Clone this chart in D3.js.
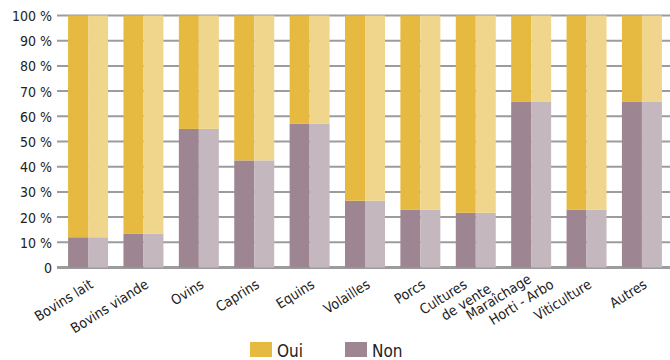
<!DOCTYPE html>
<html>
<head>
<meta charset="utf-8">
<script src="https://cdn.jsdelivr.net/npm/d3@7"></script>
<style>
  html, body { margin: 0; padding: 0; background: #fff; }
  svg { display: block; }
  text { font-family: "DejaVu Sans Condensed", "DejaVu Sans", sans-serif; font-stretch: condensed; fill: #222; }
</style>
</head>
<body>
<svg id="chart" width="670" height="360"></svg>
<script>
// ---- data ----
const categories = ["Bovins lait", "Bovins viande", "Ovins", "Caprins", "Equins", "Volailles", "Porcs", "Cultures de vente", "Maraîchage Horti - Arbo", "Viticulture", "Autres"];
const categoryLines = [["Bovins lait"], ["Bovins viande"], ["Ovins"], ["Caprins"], ["Equins"], ["Volailles"], ["Porcs"], ["Cultures", "de vente"], ["Maraîchage", "Horti - Arbo"], ["Viticulture"], ["Autres"]];
const nonValues = [12, 13.5, 55, 42.5, 57, 26.5, 23, 21.7, 65.7, 23, 65.7];
const ouiValues = [88, 86.5, 45, 57.5, 43, 73.5, 77, 78.3, 34.3, 77, 34.3];
const yTicks = [0, 10, 20, 30, 40, 50, 60, 70, 80, 90, 100];
const yTickLabels = ["0", "10 %", "20 %", "30 %", "40 %", "50 %", "60 %", "70 %", "80 %", "90 %", "100 %"];
const seriesNames = ["Oui", "Non"];

// ---- styles ----
const colors = {
  ouiDark: "#e6ba40", ouiLight: "#f0d58c",
  nonDark: "#9d8691", nonLight: "#c4b8be",
  grid: "#9c9c9c"
};
const labelAngle = -32;

const svg = d3.select("#chart");
const x = d3.scaleBand().domain(categories).range([57, 673]).paddingInner(0.278).paddingOuter(0.2);
const y = d3.scaleLinear().domain([0, 100]).range([267.5, 15.5]);

// y axis labels
const yAxis = d3.axisLeft(y).tickValues(yTicks).tickSize(0).tickFormat((d, i) => yTickLabels[i]);
const gAxis = svg.append("g").attr("transform", "translate(57,0)").call(yAxis);
gAxis.select(".domain").remove();
gAxis.selectAll("text").attr("x", -5).attr("dy", "0.36em").style("font-size", "14px").style("font-family", "'DejaVu Sans Condensed', 'DejaVu Sans', sans-serif").attr("fill", "#222");

// grid lines
svg.append("g").selectAll("line").data(yTicks).join("line")
  .attr("x1", 57).attr("x2", 670)
  .attr("y1", d => y(d)).attr("y2", d => y(d))
  .attr("stroke", colors.grid)
  .attr("stroke-width", d => d === 0 ? 3 : 2);

// bars
const bw = x.bandwidth();
const gBars = svg.append("g");
categories.forEach((c, i) => {
  const x0 = x(c);
  const halves = [[x0, bw / 2, colors.nonDark, colors.ouiDark], [x0 + bw / 2, bw / 2, colors.nonLight, colors.ouiLight]];
  halves.forEach(([hx, hw, cNon, cOui]) => {
    gBars.append("rect").attr("x", hx).attr("width", hw)
      .attr("y", y(nonValues[i])).attr("height", y(0) - y(nonValues[i])).attr("fill", cNon);
    gBars.append("rect").attr("x", hx).attr("width", hw)
      .attr("y", y(nonValues[i] + ouiValues[i])).attr("height", y(nonValues[i]) - y(nonValues[i] + ouiValues[i])).attr("fill", cOui);
  });
});

// x labels
const gLab = svg.append("g");
categories.forEach((c, i) => {
  const cx = x(c) + bw / 2;
  const lines = categoryLines[i];
  if (lines.length === 1) {
    const g = gLab.append("g").attr("transform", "translate(" + (cx + 6) + ",287) rotate(" + labelAngle + ")");
    g.append("text").attr("text-anchor", "end").attr("x", 0).attr("y", 0).style("font-size", "14px").text(lines[0]);
  } else {
    const g = gLab.append("g").attr("transform", "translate(" + (cx - 30) + ",301) rotate(" + labelAngle + ")");
    g.append("text").attr("text-anchor", "middle").attr("x", 0).attr("y", 0).style("font-size", "14px").text(lines[0]);
    g.append("text").attr("text-anchor", "middle").attr("x", 16.5).attr("y", 16.5).style("font-size", "14px").text(lines[1]);
  }
});

// legend
const legend = svg.append("g");
const legItems = [{name: seriesNames[0], color: colors.ouiDark, x: 250}, {name: seriesNames[1], color: colors.nonDark, x: 345}];
legItems.forEach(d => {
  legend.append("rect").attr("x", d.x).attr("y", 342).attr("width", 22).attr("height", 15).attr("fill", d.color);
  legend.append("text").attr("x", d.x + 27).attr("y", 357).style("font-size", "17px").text(d.name);
});
</script>
</body>
</html>
